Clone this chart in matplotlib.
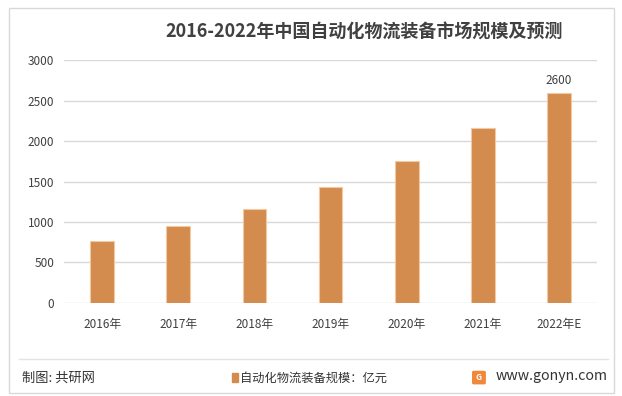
import matplotlib.pyplot as plt
from matplotlib.patches import Rectangle, FancyBboxPatch
from matplotlib.lines import Line2D

plt.rcParams['font.family'] = ['Noto Sans CJK SC', 'DejaVu Sans']

# Data
years = ["2016年", "2017年", "2018年", "2019年", "2020年", "2021年", "2022年E"]
market_size = [762, 948, 1160, 1430, 1750, 2160, 2600]
labelled = {6: "2600"}

bar_color = "#D38B4E"
text_color = "#404040"

fig = plt.figure(figsize=(6.22, 3.96), dpi=100)
ax = fig.add_axes([0.103, 0.235, 0.857, 0.613])

x = range(len(years))
ax.bar(x, market_size, width=0.31, color=bar_color, edgecolor="#F2C9A2", linewidth=0.8, zorder=3)
for i, txt in labelled.items():
    ax.text(i, market_size[i] + 70, txt, ha="center", va="bottom",
            fontsize=8.5, color=text_color)

ax.set_xlim(-0.5, len(years) - 0.5)
ax.set_ylim(0, 3000)
ax.set_yticks(range(0, 3001, 500))
ax.set_xticks(list(x))
ax.set_xticklabels(years)
ax.tick_params(axis="both", length=0, labelsize=8.5, colors=text_color)
ax.tick_params(axis="x", pad=11)
ax.tick_params(axis="y", pad=7)
ax.grid(axis="y", color="#D9D9D9", linewidth=1, zorder=0)
for s in ax.spines.values():
    s.set_visible(False)

# Title
fig.text(0.586, 0.918, "2016-2022年中国自动化物流装备市场规模及预测", ha="center", va="center",
         fontsize=13, fontweight="bold", color="#404040")

# Frame and footer
fig.add_artist(Rectangle((0.015, 0.008), 0.972, 0.972, transform=fig.transFigure,
                         fill=False, edgecolor="#D9D9D9", linewidth=1))
fig.add_artist(Line2D([0.03, 0.978], [0.094, 0.094], transform=fig.transFigure,
                      color="#E3E3E3", linewidth=1))
fig.text(0.035, 0.046, "制图: 共研网", ha="left", va="center", fontsize=9.5, color="#333333")
fig.add_artist(Rectangle((0.373, 0.035), 0.009, 0.022, transform=fig.transFigure,
                         color=bar_color))
fig.text(0.386, 0.046, "自动化物流装备规模：亿元", ha="left", va="center", fontsize=8.8, color="#333333")
fig.add_artist(FancyBboxPatch((0.762, 0.033), 0.016, 0.027, boxstyle="round,pad=0.002",
                              transform=fig.transFigure, color="#F0883A"))
fig.text(0.770, 0.046, "G", ha="center", va="center", fontsize=6, fontweight="bold", color="white")
fig.text(0.797, 0.05, "www.gonyn.com", ha="left", va="center", fontsize=10.2, color="#333333")

fig.savefig("out.png", dpi=100)
